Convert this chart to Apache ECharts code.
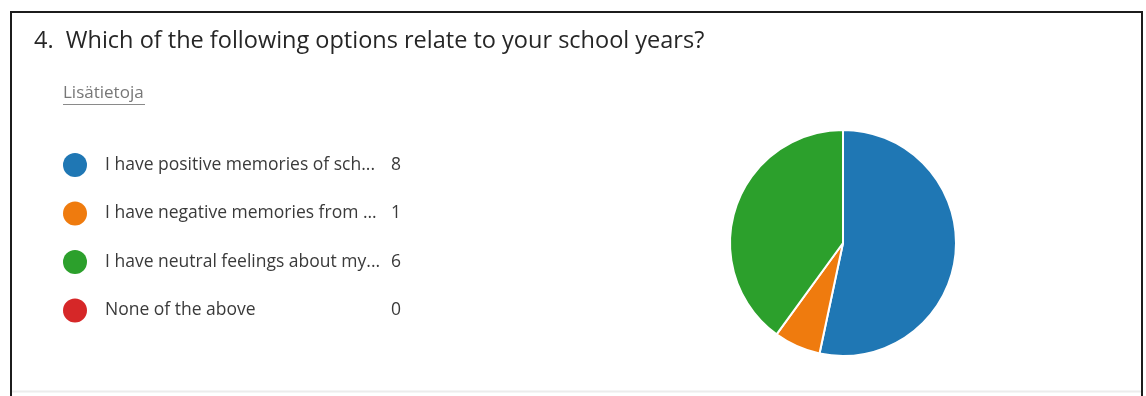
<!DOCTYPE html>
<html>
<head>
<meta charset="utf-8">
<script src="https://cdn.jsdelivr.net/npm/echarts@6/dist/echarts.min.js"></script>
<style>
  html, body { margin: 0; padding: 0; background: #fff; }
  #chart { width: 1146px; height: 396px; }
</style>
</head>
<body>
<div id="chart"></div>
<script>
// Survey question and answer options
const questionTitle = '4.  Which of the following options relate to your school years?';
const moreInfoText = 'Lisätietoja';
const categories = [
  'I have positive memories of sch...',
  'I have negative memories from ...',
  'I have neutral feelings about my...',
  'None of the above'
];
const counts = [8, 1, 6, 0];
const colors = ['#1f77b4', '#ef7b0e', '#2ca02c', '#d62728'];

const FONT = '"Open Sans", "Noto Sans", sans-serif';

const pieData = categories.map((name, i) => ({
  name: name,
  value: counts[i],
  itemStyle: { color: colors[i] }
}));

const chart = echarts.init(document.getElementById('chart'), null, { renderer: 'canvas' });

chart.setOption({
  animation: false,
  backgroundColor: '#ffffff',
  textStyle: { fontFamily: FONT },
  graphic: [
    // card frame
    {
      type: 'polyline',
      shape: { points: [[11, 396], [11, 12], [1142, 12], [1142, 396]] },
      style: { stroke: '#1c1c1c', lineWidth: 2, fill: null },
      silent: true
    },
    {
      type: 'line',
      shape: { x1: 12, y1: 391.5, x2: 1141, y2: 391.5 },
      style: { stroke: '#ececec', lineWidth: 2 },
      silent: true
    },
    {
      type: 'text',
      left: 34,
      top: 29,
      style: { text: questionTitle, font: '23.5px ' + FONT, fill: '#262626' }
    },
    {
      type: 'text',
      left: 63,
      top: 85,
      style: { text: moreInfoText, font: '17px ' + FONT, fill: '#777777' }
    },
    {
      type: 'line',
      shape: { x1: 63, y1: 104.5, x2: 145, y2: 104.5 },
      style: { stroke: '#8a8a8a', lineWidth: 1 }
    }
  ],
  legend: {
    orient: 'vertical',
    left: 63,
    top: 153,
    padding: 0,
    icon: 'circle',
    itemWidth: 24,
    itemHeight: 24,
    itemGap: 24.5,
    itemStyle: { borderWidth: 0 },
    selectedMode: false,
    data: categories,
    formatter: function (name) {
      const i = categories.indexOf(name);
      return '{n|' + name + '}{v|' + counts[i] + '}';
    },
    textStyle: {
      padding: [0, 0, 0, 13],
      rich: {
        n: { fontSize: 17.5, lineHeight: 24, color: '#3a3a3a', fontFamily: FONT, width: 286 },
        v: { fontSize: 17.5, lineHeight: 24, color: '#3a3a3a', fontFamily: FONT }
      }
    }
  },
  series: [{
    type: 'pie',
    center: [843, 243],
    radius: 113,
    startAngle: 90,
    clockwise: true,
    silent: true,
    label: { show: false },
    labelLine: { show: false },
    itemStyle: { borderColor: '#ffffff', borderWidth: 2 },
    data: pieData
  }]
});
</script>
</body>
</html>
